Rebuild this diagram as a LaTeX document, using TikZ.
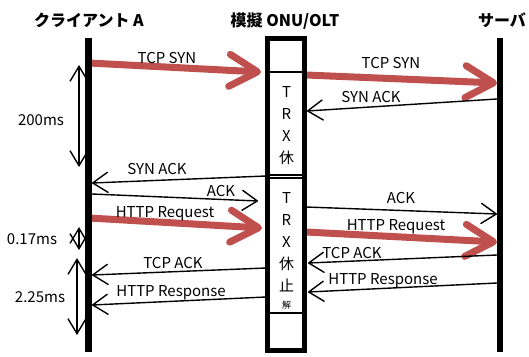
\documentclass[tikz,border=0pt]{standalone}
\usepackage{fontspec}
\setmainfont{Noto Sans CJK JP}
\usetikzlibrary{arrows.meta}
\definecolor{sigred}{RGB}{192,80,77}

\begin{document}
\begin{tikzpicture}[x=1pt,y=-1pt,
    lbl/.style={font=\fontsize{15}{15}\selectfont,inner sep=0pt,text height=11pt,text depth=0pt},
    hdr/.style={font=\fontsize{16}{16}\selectfont\bfseries,inner sep=0pt,text height=12pt,text depth=0pt},
    life/.style={fill=black,inner sep=0pt,minimum width=6.5pt,minimum height=314pt},
    seg/.style={draw,line width=1.3pt,inner sep=0pt,minimum width=35pt,align=center,
        font=\fontsize{15}{22}\selectfont},
    msg/.style={line width=1.4pt,-{Straight Barb[length=15pt,width=20pt,round]}},
    bigmsg/.style={line width=7pt,draw=sigred,-{Straight Barb[length=28pt,width=32pt,round]}},
    period/.style={line width=1.4pt,{Straight Barb[length=15pt,width=18pt]}-{Straight Barb[length=15pt,width=18pt]}}]
    \useasboundingbox (0,0) rectangle (529,356);

    % heads
    \node[hdr] (Client) at (89,20) {クライアント A};
    \node[hdr] (Onu) at (285,20) {模擬 ONU/OLT};
    \node[hdr] (Server) at (502,20) {サーバ};

    % end points of the messages
    \coordinate (c1) at (89,63);   \coordinate (o1) at (261,72);
    \coordinate (o2) at (306,75);  \coordinate (s2) at (497,83);
    \coordinate (s3) at (497,99);  \coordinate (o3) at (307,111);
    \coordinate (o4) at (266,176); \coordinate (c4) at (92,183);
    \coordinate (c5) at (92,194);  \coordinate (o5) at (258,201);
    \coordinate (o6) at (306,207); \coordinate (s6) at (497,214);
    \coordinate (c7) at (89,218);  \coordinate (o7) at (262,228);
    \coordinate (o8) at (306,232); \coordinate (s8) at (497,242);
    \coordinate (s9) at (497,255); \coordinate (o9) at (308,263);
    \coordinate (o10) at (266,268); \coordinate (c10) at (92,275);
    \coordinate (s11) at (497,283); \coordinate (o11) at (308,292);
    \coordinate (o12) at (266,297); \coordinate (c12) at (92,305);

    \draw[bigmsg] (c1) to (o1);
    \draw[bigmsg] (o2) to (s2);
    \draw[msg] (s3) to (o3);
    \draw[msg] (o4) to (c4);
    \draw[msg] (c5) to (o5);
    \draw[msg] (o6) to (s6);
    \draw[bigmsg] (c7) to (o7);
    \draw[bigmsg] (o8) to (s8);
    \draw[msg] (s9) to (o9);
    \draw[msg] (o10) to (c10);
    \draw[msg] (s11) to (o11);
    \draw[msg] (o12) to (c12);

    \node[lbl] (Syn1) at (167,58) {TCP SYN};
    \node[lbl] (Syn2) at (391,63) {TCP SYN};
    \node[lbl] (SynAck1) at (371,97) {SYN ACK};
    \node[lbl] (SynAck2) at (157,169) {SYN ACK};
    \node[lbl] (Ack1) at (221,191) {ACK};
    \node[lbl] (Ack2) at (401,198) {ACK};
    \node[lbl] (Req1) at (165,212) {HTTP Request};
    \node[lbl] (Req2) at (396,225) {HTTP Request};
    \node[lbl] (TcpAck1) at (352,253) {TCP ACK};
    \node[lbl] (TcpAck2) at (173,263) {TCP ACK};
    \node[lbl] (Resp1) at (383,279) {HTTP Response};
    \node[lbl] (Resp2) at (171,291) {HTTP Response};

    % life lines
    \node[life] (ClientLine) at (88.5,195) {};
    \node[life] (ServerLine) at (500,195) {};

    % the ONU/OLT box
    \node[seg,minimum height=103pt] (TrxA) at (286.5,123.5) {\rule{0pt}{15pt}T\\R\\X\\休};
    \node[seg,minimum height=135pt] (TrxB) at (286.5,245.5)
        {\rule{0pt}{21pt}T\\R\\X\\休\\止\\[-5pt]{\fontsize{9}{9}\selectfont 解}};
    \node[draw,line width=5pt,inner sep=0pt,minimum width=37pt,minimum height=312pt] (Box) at (285.5,194.5) {};

    % times
    \coordinate (t1) at (79,65);  \coordinate (t2) at (79,167);
    \coordinate (t3) at (79,227); \coordinate (t4) at (79,250);
    \coordinate (t5) at (77,258); \coordinate (t6) at (77,335);
    \draw[period] (t1) to (t2);
    \draw[period] (t3) to (t4);
    \draw[period] (t5) to (t6);
    \node[lbl] (T200) at (41,120) {200ms};
    \node[lbl] (T017) at (32,239) {0.17ms};
    \node[lbl] (T225) at (40,297) {2.25ms};
\end{tikzpicture}
\end{document}
